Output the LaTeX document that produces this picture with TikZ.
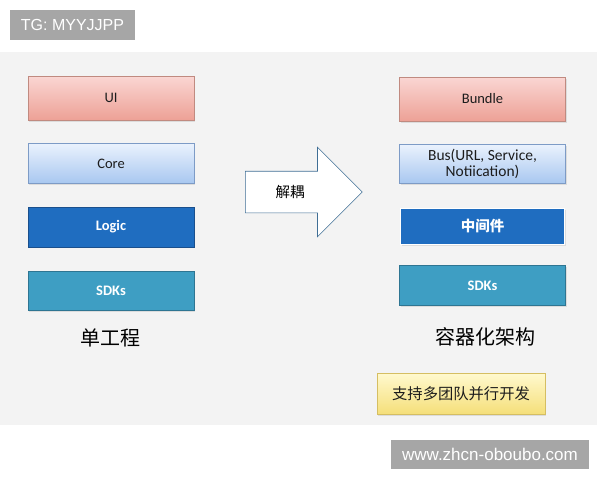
\documentclass[tikz,border=0pt]{standalone}
\usepackage{fontspec}
\setmainfont{Carlito}
\newfontfamily\cjk{Noto Sans CJK SC}
\newfontfamily\wmfont{Liberation Sans}
\usepackage{tikz}
\usetikzlibrary{positioning,shapes.arrows,shadows}
\definecolor{panelgray}{HTML}{F3F3F3}
\definecolor{markgray}{HTML}{A6A6A6}
\definecolor{pinktop}{HTML}{FAD6D3}
\definecolor{pinkbot}{HTML}{EDA196}
\definecolor{pinkline}{HTML}{C08A80}
\definecolor{bluetop}{HTML}{EAF2FD}
\definecolor{bluebot}{HTML}{A8C7F0}
\definecolor{blueline}{HTML}{7D9BC6}
\definecolor{logicblue}{HTML}{1F6DC0}
\definecolor{logicline}{HTML}{1A4F8C}
\definecolor{sdkteal}{HTML}{3E9EC3}
\definecolor{sdkline}{HTML}{2E7592}
\definecolor{yeltop}{HTML}{FFF9CE}
\definecolor{yelbot}{HTML}{F5DF7A}
\definecolor{yelline}{HTML}{D5BE62}
\definecolor{arrowline}{HTML}{3F6E95}
\definecolor{textdark}{HTML}{1C1C1C}

\begin{document}
\begin{tikzpicture}[
  x=1pt,y=-1pt,
  node distance=23pt,
  layer/.style={rectangle,minimum width=166pt,minimum height=40pt,inner sep=0pt,
                align=center,font=\fontsize{14.5}{15.5}\selectfont,text=textdark,
                drop shadow={opacity=0.2,shadow xshift=1pt,shadow yshift=-1.5pt}},
  pinkbox/.style={layer,draw=pinkline,top color=pinktop,bottom color=pinkbot},
  bluebox/.style={layer,draw=blueline,top color=bluetop,bottom color=bluebot},
  logicbox/.style={layer,draw=logicline,fill=logicblue,text=white,
                   font=\bfseries\fontsize{14.5}{15.5}\selectfont},
  sdkbox/.style={layer,draw=sdkline,fill=sdkteal,text=white,
                 font=\bfseries\fontsize{14.5}{15.5}\selectfont},
  caption/.style={font=\cjk\fontsize{20}{24}\selectfont,text=black},
  wmark/.style={rectangle,fill=markgray,text=white,inner sep=0pt,
               font=\wmfont\fontsize{16}{18}\selectfont}
]
  \useasboundingbox (0,0) rectangle (600,480);
  \fill[white] (0,0) rectangle (600,480);
  \fill[panelgray] (0,52) rectangle (597,425);

  % single project
  \node[pinkbox,minimum height=44pt] (ui) at (111,98) {UI};
  \node[bluebox,below=of ui] (core) {Core};
  \node[logicbox,below=of core] (logic) {Logic};
  \node[sdkbox,below=24pt of logic,minimum height=39pt] (sdks) {SDKs};
  \node[caption] (single) at (110,338) {单工程};

  % decoupling arrow
  \node[single arrow,draw=arrowline,fill=white,line width=0.6pt,
        minimum width=89pt,minimum height=117pt,single arrow head extend=24pt,
        inner ysep=0pt,text height=41pt,anchor=tail] (decouple) at (245,192) {};
  \node[font=\cjk\fontsize{14.5}{16}\selectfont] (decoupletext) at (290,192) {解耦};

  % container architecture
  \node[pinkbox,minimum height=44pt] (bundle) at (482.5,99) {Bundle};
  \node[bluebox,below=of bundle,minimum height=39pt,
        font=\fontsize{15.5}{15.5}\selectfont] (bus) {Bus(URL, Service,\\Notiication)};
  \node[logicbox,below=24pt of bus,minimum width=164pt,minimum height=36pt,
        draw=white,line width=1.5pt,font=\cjk\bfseries\fontsize{14.5}{16}\selectfont] (middle) {中间件};
  \node[sdkbox,below=20pt of middle] (sdks2) {SDKs};
  \node[caption] (container) at (485,337) {容器化架构};
  \node[layer,draw=yelline,top color=yeltop,bottom color=yelbot,minimum width=168pt,
        minimum height=41pt,font=\cjk\fontsize{15.3}{17}\selectfont] (teams) at (461,393.5) {支持多团队并行开发};

  % watermarks
  \node[wmark,minimum width=125pt,minimum height=30pt] (tg) at (72.5,25) {TG: MYYJJPP};
  \node[wmark,minimum width=198pt,minimum height=29pt,
        font=\wmfont\fontsize{17}{19}\selectfont] (site) at (490,454.5) {www.zhcn-oboubo.com};
\end{tikzpicture}
\end{document}
